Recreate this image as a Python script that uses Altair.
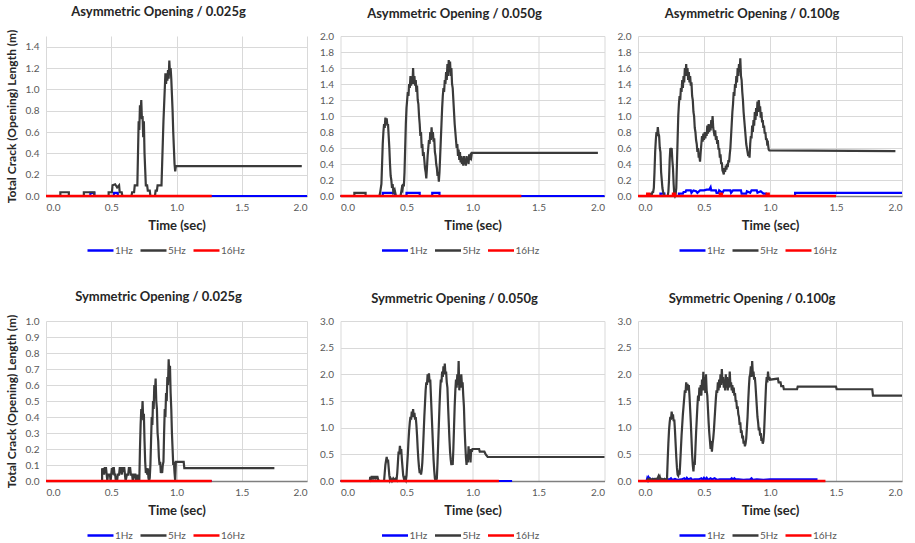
import altair as alt
import pandas as pd

# ---------------- data: (time in s, total crack opening length in m) ----------------
SERIES = ["1Hz", "5Hz", "16Hz"]
COLORS = ["#0000ff", "#3a3a3a", "#ff0000"]
X_TICKS = [0.0, 0.5, 1.0, 1.5, 2.0]

Y_TICKS_A025 = [0.0, 0.2, 0.4, 0.6, 0.8, 1.0, 1.2, 1.4]
Y_TICKS_A = [0.0, 0.2, 0.4, 0.6, 0.8, 1.0, 1.2, 1.4, 1.6, 1.8, 2.0]
Y_TICKS_S025 = [0.0, 0.1, 0.2, 0.3, 0.4, 0.5, 0.6, 0.7, 0.8, 0.9, 1.0]
Y_TICKS_S = [0.0, 0.5, 1.0, 1.5, 2.0, 2.5, 3.0]

TITLES = ["Asymmetric Opening / 0.025g", "Asymmetric Opening / 0.050g", "Asymmetric Opening / 0.100g",
          "Symmetric Opening / 0.025g", "Symmetric Opening / 0.050g", "Symmetric Opening / 0.100g"]
Y_TITLE = "Total Crack (Opening) Length (m)"
X_TITLE = "Time (sec)"

# ---- Asymmetric 0.025g ----
A025_1HZ = [(0, 0), (0.34, 0), (0.34, 0.03), (0.37, 0.03), (0.37, 0), (0.52, 0), (0.52, 0.03),
            (0.55, 0.03), (0.55, 0), (2.0, 0)]
A025_5HZ = [(0, 0), (0.11, 0), (0.11, 0.035), (0.175, 0.035), (0.175, 0), (0.29, 0), (0.29, 0.035),
            (0.37, 0.035), (0.37, 0), (0.48, 0), (0.48, 0.035), (0.505, 0.035), (0.51, 0.1), (0.53, 0.11),
            (0.545, 0.08), (0.56, 0.1), (0.565, 0.035), (0.58, 0.035), (0.585, 0), (0.655, 0), (0.66, 0.035),
            (0.675, 0.035), (0.68, 0.1), (0.70, 0.1), (0.705, 0.4), (0.71, 0.7), (0.715, 0.62), (0.72, 0.85),
            (0.725, 0.78), (0.73, 0.9), (0.735, 0.72), (0.74, 0.75), (0.745, 0.55), (0.75, 0.7), (0.755, 0.4),
            (0.76, 0.25), (0.765, 0.1), (0.775, 0.1), (0.78, 0.05), (0.795, 0.05), (0.80, 0), (0.835, 0),
            (0.84, 0.05), (0.85, 0.05), (0.855, 0.1), (0.885, 0.1), (0.89, 0.3), (0.895, 0.5), (0.90, 0.7),
            (0.905, 0.85), (0.91, 1.0), (0.915, 1.15), (0.92, 1.05), (0.925, 1.15), (0.93, 1.08), (0.935, 1.18),
            (0.94, 1.1), (0.945, 1.27), (0.95, 1.15), (0.955, 1.2), (0.96, 1.1), (0.965, 0.95), (0.97, 0.8),
            (0.975, 0.6), (0.98, 0.45), (0.985, 0.3), (0.99, 0.23), (0.995, 0.28), (1.96, 0.28)]
A025_16HZ = [(0, 0), (1.27, 0)]

# ---- Asymmetric 0.050g ----
A050_1HZ = [(0, 0), (0.32, 0), (0.32, 0.04), (0.41, 0.04), (0.41, 0), (0.50, 0), (0.50, 0.04), (0.60, 0.04),
            (0.60, 0), (0.695, 0), (0.695, 0.04), (0.75, 0.04), (0.75, 0), (2.0, 0)]
A050_5HZ = [(0, 0), (0.105, 0), (0.105, 0.04), (0.19, 0.04), (0.19, 0), (0.295, 0), (0.30, 0.04), (0.31, 0.15),
            (0.315, 0.4), (0.32, 0.65), (0.325, 0.8), (0.33, 0.9), (0.335, 0.85), (0.34, 0.98), (0.345, 0.92),
            (0.35, 0.97), (0.355, 0.88), (0.36, 0.9), (0.365, 0.75), (0.37, 0.6), (0.375, 0.4), (0.38, 0.25),
            (0.385, 0.2), (0.39, 0.1), (0.395, 0.15), (0.40, 0.05), (0.41, 0.08), (0.42, 0), (0.455, 0),
            (0.46, 0.05), (0.465, 0.1), (0.47, 0.08), (0.475, 0.15), (0.48, 0.12), (0.485, 0.3), (0.49, 0.6),
            (0.495, 0.9), (0.50, 1.1), (0.505, 1.2), (0.51, 1.3), (0.515, 1.25), (0.52, 1.4), (0.525, 1.35),
            (0.53, 1.5), (0.535, 1.38), (0.54, 1.48), (0.545, 1.4), (0.55, 1.6), (0.555, 1.4), (0.56, 1.5),
            (0.565, 1.38), (0.57, 1.45), (0.575, 1.3), (0.58, 1.38), (0.585, 1.2), (0.59, 1.15), (0.595, 1.0),
            (0.60, 0.9), (0.605, 0.75), (0.61, 0.8), (0.615, 0.6), (0.62, 0.65), (0.625, 0.5), (0.63, 0.55),
            (0.635, 0.45), (0.64, 0.35), (0.645, 0.3), (0.65, 0.22), (0.655, 0.35), (0.66, 0.5), (0.665, 0.6),
            (0.67, 0.7), (0.675, 0.65), (0.68, 0.8), (0.685, 0.7), (0.69, 0.86), (0.695, 0.72), (0.70, 0.8),
            (0.705, 0.68), (0.71, 0.72), (0.715, 0.55), (0.72, 0.5), (0.725, 0.4), (0.73, 0.35), (0.735, 0.25),
            (0.74, 0.3), (0.745, 0.18), (0.75, 0.3), (0.755, 0.5), (0.76, 0.7), (0.765, 0.9), (0.77, 1.1),
            (0.775, 1.25), (0.78, 1.35), (0.785, 1.3), (0.79, 1.45), (0.795, 1.4), (0.80, 1.55), (0.805, 1.45),
            (0.81, 1.65), (0.815, 1.5), (0.82, 1.7), (0.825, 1.55), (0.83, 1.68), (0.835, 1.5), (0.84, 1.6),
            (0.845, 1.4), (0.85, 1.35), (0.855, 1.2), (0.86, 1.05), (0.865, 0.9), (0.87, 0.8), (0.875, 0.7),
            (0.88, 0.6), (0.885, 0.65), (0.89, 0.5), (0.895, 0.58), (0.90, 0.45), (0.905, 0.55), (0.91, 0.42),
            (0.915, 0.5), (0.92, 0.4), (0.925, 0.48), (0.93, 0.38), (0.935, 0.5), (0.94, 0.4), (0.945, 0.45),
            (0.95, 0.38), (0.955, 0.5), (0.96, 0.42), (0.965, 0.48), (0.97, 0.4), (0.975, 0.52), (0.98, 0.45),
            (0.985, 0.5), (0.99, 0.48), (0.995, 0.54), (1.95, 0.54)]
A050_16HZ = [(0, 0), (1.37, 0)]

# ---- Asymmetric 0.100g ----
A100_1HZ = [(0, 0), (0.17, 0), (0.17, 0.03), (0.20, 0.03), (0.20, 0), (0.31, 0), (0.31, 0.03), (0.34, 0.03),
            (0.345, 0.05), (0.36, 0.05), (0.365, 0.07), (0.40, 0.07), (0.405, 0.04), (0.42, 0.07), (0.44, 0.06),
            (0.45, 0.04), (0.47, 0.07), (0.50, 0.07), (0.52, 0.08), (0.54, 0.08), (0.55, 0.11), (0.555, 0.07),
            (0.59, 0.07), (0.595, 0.04), (0.61, 0.04), (0.615, 0.07), (0.64, 0.04), (0.65, 0.07), (0.70, 0.07),
            (0.705, 0.04), (0.72, 0.07), (0.78, 0.07), (0.785, 0.03), (0.82, 0.03), (0.825, 0.06), (0.85, 0.04),
            (0.86, 0.07), (0.90, 0.07), (0.905, 0.04), (0.93, 0.06), (0.95, 0.03), (0.97, 0.03), (0.975, 0),
            (1.19, 0), (1.19, 0.04), (2.0, 0.04)]
A100_5HZ = [(0, 0), (0.085, 0), (0.09, 0.02), (0.10, 0.03), (0.105, 0.02), (0.11, 0.05), (0.115, 0.05),
            (0.12, 0.1), (0.125, 0.3), (0.13, 0.55), (0.135, 0.7), (0.14, 0.8), (0.145, 0.75), (0.15, 0.86),
            (0.155, 0.78), (0.16, 0.75), (0.165, 0.6), (0.17, 0.55), (0.175, 0.3), (0.18, 0.2), (0.185, 0.1),
            (0.19, 0.05), (0.195, 0.03), (0.20, 0), (0.225, 0), (0.23, 0.05), (0.235, 0.2), (0.24, 0.45),
            (0.245, 0.6), (0.25, 0.55), (0.255, 0.6), (0.26, 0.45), (0.265, 0.35), (0.27, 0.15), (0.275, 0.02),
            (0.28, 0), (0.285, 0.02), (0.29, 0.1), (0.295, 0.4), (0.30, 0.7), (0.305, 1.0), (0.31, 1.15),
            (0.315, 1.25), (0.32, 1.2), (0.325, 1.35), (0.33, 1.3), (0.335, 1.45), (0.34, 1.35), (0.345, 1.5),
            (0.35, 1.42), (0.355, 1.6), (0.36, 1.5), (0.365, 1.65), (0.37, 1.5), (0.375, 1.6), (0.38, 1.45),
            (0.385, 1.55), (0.39, 1.42), (0.395, 1.5), (0.40, 1.38), (0.405, 1.42), (0.41, 1.25), (0.415, 1.2),
            (0.42, 1.05), (0.425, 1.0), (0.43, 0.85), (0.435, 0.8), (0.44, 0.7), (0.445, 0.65), (0.45, 0.55),
            (0.455, 0.6), (0.46, 0.48), (0.465, 0.5), (0.47, 0.43), (0.475, 0.55), (0.48, 0.65), (0.485, 0.75),
            (0.49, 0.68), (0.495, 0.78), (0.50, 0.7), (0.505, 0.8), (0.51, 0.72), (0.515, 0.8), (0.52, 0.75),
            (0.525, 0.88), (0.53, 0.78), (0.535, 0.9), (0.54, 0.8), (0.545, 0.88), (0.55, 0.82), (0.555, 0.95),
            (0.56, 0.85), (0.565, 1.0), (0.57, 0.85), (0.575, 0.8), (0.58, 0.75), (0.585, 0.82), (0.59, 0.7),
            (0.595, 0.75), (0.60, 0.65), (0.605, 0.7), (0.61, 0.58), (0.615, 0.6), (0.62, 0.48), (0.625, 0.52),
            (0.63, 0.4), (0.635, 0.42), (0.64, 0.32), (0.645, 0.3), (0.65, 0.27), (0.655, 0.35), (0.66, 0.3),
            (0.665, 0.38), (0.67, 0.33), (0.675, 0.4), (0.68, 0.36), (0.685, 0.45), (0.69, 0.42), (0.695, 0.52),
            (0.70, 0.6), (0.705, 0.75), (0.71, 0.9), (0.715, 1.05), (0.72, 1.15), (0.725, 1.3), (0.73, 1.25),
            (0.735, 1.4), (0.74, 1.35), (0.745, 1.5), (0.75, 1.42), (0.755, 1.6), (0.76, 1.5), (0.765, 1.65),
            (0.77, 1.55), (0.775, 1.72), (0.78, 1.5), (0.785, 1.45), (0.79, 1.3), (0.795, 1.2), (0.80, 1.05),
            (0.805, 0.95), (0.81, 0.85), (0.815, 0.75), (0.82, 0.65), (0.825, 0.6), (0.83, 0.55), (0.835, 0.5),
            (0.84, 0.55), (0.845, 0.48), (0.85, 0.65), (0.855, 0.75), (0.86, 0.72), (0.865, 0.88), (0.87, 0.8),
            (0.875, 0.95), (0.88, 0.88), (0.885, 1.05), (0.89, 0.95), (0.895, 1.1), (0.90, 1.0), (0.905, 1.18),
            (0.91, 1.05), (0.915, 1.2), (0.92, 1.08), (0.925, 1.12), (0.93, 0.98), (0.935, 1.05), (0.94, 0.92),
            (0.945, 0.95), (0.95, 0.85), (0.955, 0.88), (0.96, 0.78), (0.965, 0.8), (0.97, 0.7), (0.975, 0.72),
            (0.98, 0.63), (0.985, 0.65), (0.99, 0.58), (0.995, 0.57), (1.95, 0.56)]
A100_16HZ = [(0, 0), (0.07, 0), (0.07, 0.03), (0.085, 0.03), (0.085, 0), (0.265, 0), (0.265, 0.03),
             (0.28, 0.03), (0.28, 0), (0.62, 0), (0.62, 0.03), (0.635, 0.03), (0.635, 0), (0.975, 0),
             (0.975, 0.03), (0.99, 0.03), (0.99, 0), (1.5, 0)]

# ---- Symmetric 0.025g ----
S025_1HZ = [(0, 0), (1.27, 0)]
S025_5HZ = [(0, 0), (0.43, 0), (0.43, 0.08), (0.435, 0.04), (0.44, 0.08), (0.445, 0.04), (0.45, 0.08),
            (0.46, 0.08), (0.465, 0.04), (0.47, 0), (0.475, 0.04), (0.49, 0.04), (0.495, 0), (0.50, 0.04),
            (0.505, 0.08), (0.51, 0.04), (0.515, 0.08), (0.52, 0.08), (0.525, 0.04), (0.53, 0.04), (0.535, 0),
            (0.545, 0), (0.55, 0.04), (0.56, 0.04), (0.565, 0.08), (0.575, 0.08), (0.58, 0.04), (0.59, 0.08),
            (0.60, 0.08), (0.605, 0.04), (0.61, 0), (0.62, 0.04), (0.63, 0.04), (0.635, 0.08), (0.645, 0.08),
            (0.65, 0.04), (0.66, 0.04), (0.665, 0), (0.675, 0.04), (0.685, 0.04), (0.69, 0), (0.70, 0.04),
            (0.705, 0), (0.715, 0), (0.72, 0.2), (0.725, 0.35), (0.73, 0.45), (0.735, 0.4), (0.74, 0.5),
            (0.745, 0.38), (0.75, 0.42), (0.755, 0.25), (0.76, 0.12), (0.765, 0.05), (0.77, 0.08), (0.775, 0.04),
            (0.78, 0.08), (0.785, 0.02), (0.79, 0), (0.795, 0.02), (0.80, 0.1), (0.805, 0.25), (0.81, 0.4),
            (0.815, 0.35), (0.82, 0.5), (0.825, 0.45), (0.83, 0.6), (0.835, 0.55), (0.84, 0.64), (0.845, 0.5),
            (0.85, 0.45), (0.855, 0.3), (0.86, 0.25), (0.865, 0.15), (0.87, 0.1), (0.875, 0.12), (0.88, 0.05),
            (0.885, 0.08), (0.89, 0.05), (0.895, 0.1), (0.90, 0.12), (0.905, 0.3), (0.91, 0.45), (0.915, 0.4),
            (0.92, 0.55), (0.925, 0.5), (0.93, 0.65), (0.935, 0.6), (0.94, 0.76), (0.945, 0.65), (0.95, 0.72),
            (0.955, 0.55), (0.96, 0.45), (0.965, 0.3), (0.97, 0.2), (0.975, 0.1), (0.98, 0.12), (0.985, 0.05),
            (0.99, 0), (0.995, 0.12), (1.055, 0.12), (1.06, 0.08), (1.75, 0.08)]
S025_16HZ = [(0, 0), (1.27, 0)]

# ---- Symmetric 0.050g ----
S050_1HZ = [(0, 0), (1.3, 0)]
S050_5HZ = [(0, 0), (0.222, 0), (0.225, 0.08), (0.23, 0.04), (0.235, 0.08), (0.24, 0.08), (0.245, 0.03),
            (0.25, 0.08), (0.26, 0.08), (0.265, 0.03), (0.27, 0.08), (0.28, 0.08), (0.285, 0.03), (0.29, 0),
            (0.33, 0), (0.335, 0.15), (0.34, 0.3), (0.345, 0.38), (0.35, 0.45), (0.355, 0.35), (0.36, 0.4),
            (0.365, 0.25), (0.37, 0.1), (0.375, 0.02), (0.38, 0.05), (0.39, 0), (0.40, 0.05), (0.41, 0.02),
            (0.42, 0.05), (0.425, 0.03), (0.43, 0.15), (0.435, 0.35), (0.44, 0.55), (0.445, 0.5), (0.45, 0.66),
            (0.455, 0.55), (0.46, 0.6), (0.465, 0.4), (0.47, 0.25), (0.475, 0.1), (0.48, 0.05), (0.485, 0),
            (0.49, 0.05), (0.495, 0.02), (0.50, 0.1), (0.505, 0.3), (0.51, 0.5), (0.515, 0.75), (0.52, 0.95),
            (0.525, 1.1), (0.53, 1.2), (0.535, 1.15), (0.54, 1.3), (0.545, 1.2), (0.55, 1.35), (0.555, 1.2),
            (0.56, 1.28), (0.565, 1.15), (0.57, 1.2), (0.575, 1.05), (0.58, 0.85), (0.585, 0.6), (0.59, 0.4),
            (0.595, 0.25), (0.60, 0.15), (0.605, 0.2), (0.61, 0.12), (0.615, 0.2), (0.62, 0.35), (0.625, 0.6),
            (0.63, 0.9), (0.635, 1.2), (0.64, 1.45), (0.645, 1.7), (0.65, 1.85), (0.655, 1.8), (0.66, 2.0),
            (0.665, 1.85), (0.67, 2.02), (0.675, 1.85), (0.68, 1.9), (0.685, 1.6), (0.69, 1.3), (0.695, 1.0),
            (0.70, 0.7), (0.705, 0.4), (0.71, 0.2), (0.715, 0.05), (0.72, 0), (0.725, 0), (0.73, 0.05),
            (0.735, 0.35), (0.74, 0.7), (0.745, 1.05), (0.75, 1.4), (0.755, 1.7), (0.76, 1.9), (0.765, 1.85),
            (0.77, 2.05), (0.775, 1.95), (0.78, 2.15), (0.785, 2.0), (0.79, 2.2), (0.795, 2.0), (0.80, 2.05),
            (0.805, 1.85), (0.81, 1.75), (0.815, 1.4), (0.82, 1.1), (0.825, 0.8), (0.83, 0.55), (0.835, 0.4),
            (0.84, 0.3), (0.845, 0.35), (0.85, 0.3), (0.855, 0.6), (0.86, 1.0), (0.865, 1.4), (0.87, 1.7),
            (0.875, 1.9), (0.88, 1.75), (0.885, 2.0), (0.89, 1.8), (0.895, 2.25), (0.90, 1.7), (0.905, 1.95),
            (0.91, 1.75), (0.915, 2.0), (0.92, 1.8), (0.925, 1.85), (0.93, 1.6), (0.935, 1.4), (0.94, 1.0),
            (0.945, 0.7), (0.95, 0.45), (0.955, 0.3), (0.96, 0.5), (0.965, 0.35), (0.97, 0.65), (0.975, 0.4),
            (0.98, 0.6), (0.985, 0.35), (0.99, 0.6), (0.995, 0.55), (1.0, 0.6), (1.05, 0.6), (1.055, 0.55),
            (1.09, 0.55), (1.10, 0.5), (1.115, 0.45), (2.0, 0.45)]
S050_16HZ = [(0, 0), (1.2, 0)]

# ---- Symmetric 0.100g ----
S100_1HZ = [(0, 0), (0.065, 0), (0.07, 0.05), (0.075, 0.02), (0.08, 0.06), (0.085, 0.03), (0.09, 0.05),
            (0.10, 0.02), (0.12, 0.04), (0.14, 0.02), (0.16, 0.04), (0.18, 0.02), (0.20, 0.03), (0.24, 0.03),
            (0.25, 0.05), (0.26, 0.02), (0.28, 0.04), (0.30, 0.02), (0.33, 0.03), (0.35, 0.05), (0.36, 0.02),
            (0.37, 0.06), (0.38, 0.03), (0.40, 0.05), (0.41, 0.02), (0.43, 0.03), (0.46, 0.03), (0.48, 0.05),
            (0.49, 0.02), (0.50, 0.06), (0.51, 0.03), (0.52, 0.06), (0.53, 0.02), (0.55, 0.05), (0.56, 0.03),
            (0.58, 0.05), (0.60, 0.02), (0.62, 0.03), (0.66, 0.03), (0.70, 0.03), (0.71, 0.05), (0.72, 0.02),
            (0.73, 0.05), (0.74, 0.03), (0.76, 0.03), (0.80, 0.02), (0.85, 0.03), (0.86, 0.05), (0.87, 0.02),
            (0.90, 0.03), (0.95, 0.02), (1.0, 0.03), (1.36, 0.03)]
S100_5HZ = [(0, 0), (0.07, 0), (0.075, 0.03), (0.08, 0.01), (0.09, 0.04), (0.10, 0.02), (0.11, 0.04),
            (0.12, 0.02), (0.13, 0.04), (0.14, 0.03), (0.15, 0.06), (0.155, 0.09), (0.16, 0.05), (0.165, 0.08),
            (0.17, 0.03), (0.18, 0.04), (0.19, 0.02), (0.20, 0.04), (0.21, 0.02), (0.215, 0.03), (0.22, 0.05),
            (0.225, 0.4), (0.23, 0.7), (0.235, 0.95), (0.24, 1.1), (0.245, 1.2), (0.25, 1.15), (0.255, 1.3),
            (0.26, 1.2), (0.265, 1.25), (0.27, 1.12), (0.275, 1.15), (0.28, 0.95), (0.285, 0.7), (0.29, 0.45),
            (0.295, 0.25), (0.30, 0.12), (0.305, 0.1), (0.31, 0.15), (0.315, 0.12), (0.32, 0.35), (0.325, 0.6),
            (0.33, 0.85), (0.335, 1.05), (0.34, 1.25), (0.345, 1.4), (0.35, 1.55), (0.355, 1.7), (0.36, 1.65),
            (0.365, 1.85), (0.37, 1.7), (0.375, 1.82), (0.38, 1.7), (0.385, 1.8), (0.39, 1.6), (0.395, 1.35),
            (0.40, 1.1), (0.405, 0.8), (0.41, 0.5), (0.415, 0.3), (0.42, 0.18), (0.425, 0.35), (0.43, 0.3),
            (0.435, 0.6), (0.44, 0.9), (0.445, 1.15), (0.45, 1.4), (0.455, 1.6), (0.46, 1.5), (0.465, 1.75),
            (0.47, 1.6), (0.475, 1.8), (0.48, 1.6), (0.485, 1.9), (0.49, 1.7), (0.495, 2.05), (0.50, 1.7),
            (0.505, 1.95), (0.51, 1.65), (0.515, 2.0), (0.52, 1.7), (0.525, 1.6), (0.53, 1.35), (0.535, 1.1),
            (0.54, 0.9), (0.545, 0.75), (0.55, 0.6), (0.555, 0.75), (0.56, 0.55), (0.565, 0.7), (0.57, 0.8),
            (0.575, 0.95), (0.58, 1.15), (0.585, 1.35), (0.59, 1.55), (0.595, 1.7), (0.60, 1.65), (0.605, 1.85),
            (0.61, 1.7), (0.615, 1.9), (0.62, 1.75), (0.625, 2.0), (0.63, 1.8), (0.635, 2.1), (0.64, 1.85),
            (0.645, 1.95), (0.65, 1.75), (0.655, 1.9), (0.66, 1.7), (0.665, 2.0), (0.67, 1.75), (0.675, 1.95),
            (0.68, 1.7), (0.685, 1.9), (0.69, 1.75), (0.695, 2.05), (0.70, 1.8), (0.705, 1.85), (0.71, 1.7),
            (0.715, 1.8), (0.72, 1.65), (0.725, 1.75), (0.73, 1.6), (0.735, 1.65), (0.74, 1.5), (0.745, 1.5),
            (0.75, 1.35), (0.755, 1.4), (0.76, 1.25), (0.765, 1.2), (0.77, 1.05), (0.775, 1.1), (0.78, 0.9),
            (0.785, 0.95), (0.79, 0.8), (0.795, 0.85), (0.80, 0.7), (0.805, 0.75), (0.81, 0.65), (0.815, 0.7),
            (0.82, 0.8), (0.825, 1.0), (0.83, 1.2), (0.835, 1.5), (0.84, 1.75), (0.845, 1.95), (0.85, 2.0),
            (0.855, 2.15), (0.86, 1.95), (0.865, 2.25), (0.87, 2.0), (0.875, 2.05), (0.88, 1.9), (0.885, 1.95),
            (0.89, 1.8), (0.895, 1.6), (0.90, 1.4), (0.905, 1.2), (0.91, 1.1), (0.915, 0.95), (0.92, 1.0),
            (0.925, 0.85), (0.93, 0.9), (0.935, 0.75), (0.94, 0.8), (0.945, 0.7), (0.95, 0.75), (0.955, 0.9),
            (0.96, 1.2), (0.965, 1.5), (0.97, 1.8), (0.975, 1.95), (0.98, 1.85), (0.985, 2.05), (0.99, 1.9),
            (0.995, 1.95), (1.0, 1.9), (1.06, 1.92), (1.065, 1.85), (1.08, 1.85), (1.085, 1.78), (1.10, 1.78),
            (1.105, 1.72), (1.205, 1.72), (1.21, 1.77), (1.5, 1.77), (1.505, 1.72), (1.775, 1.72), (1.78, 1.6),
            (2.0, 1.6)]
S100_16HZ = [(0, 0), (1.42, 0)]

FONT = "Lato"


def panel(title, s1, s5, s16, ymax, yticks, width, show_ytitle):
    rows = []
    for name, pts in zip(SERIES, (s1, s5, s16)):
        for i, (t, v) in enumerate(pts):
            rows.append({"t": t, "v": v, "s": name, "i": i})
    df = pd.DataFrame(rows)
    base = alt.Chart(df)

    x = alt.X("t:Q", scale=alt.Scale(domain=[0, 2], nice=False, zero=False),
              axis=alt.Axis(values=X_TICKS, format=".1f", title=X_TITLE, titlePadding=7,
                            labelPadding=6, domain=True, domainColor="#7f7f7f", domainWidth=1.5))
    if show_ytitle:
        yaxis = alt.Axis(values=yticks, format=".1f", title=Y_TITLE, titlePadding=7, labelPadding=7,
                         domain=False)
    else:
        yaxis = alt.Axis(values=yticks, format=".1f", title=None, labelPadding=7, domain=False)
    y = alt.Y("v:Q", scale=alt.Scale(domain=[0, ymax], nice=False), axis=yaxis)
    color = alt.Color("s:N", scale=alt.Scale(domain=SERIES, range=COLORS),
                      legend=alt.Legend(orient="none", legendX=40, legendY=200, direction="horizontal",
                                        title=None, symbolType="stroke", symbolSize=676,
                                        symbolStrokeWidth=2.5, labelFontSize=10, labelFont=FONT,
                                        labelColor="#595959", columnPadding=2, labelOffset=0,
                                        gridAlign="none"))
    layers = []
    for name, sw in zip(SERIES, (2.2, 2.2, 2.4)):
        layers.append(base.transform_filter(alt.datum.s == name)
                      .mark_line(strokeWidth=sw, strokeJoin="miter")
                      .encode(x=x, y=y, color=color, order="i:Q"))
    return alt.layer(*layers).properties(
        width=width, height=160,
        title=alt.TitleParams(title, anchor="middle", frame="group", dx=-18, offset=0,
                              fontSize=13, fontWeight="bold", font=FONT, color="#262626",
                              baseline="alphabetic"))


panels = [
    panel(TITLES[0], A025_1HZ, A025_5HZ, A025_16HZ, 1.5, Y_TICKS_A025, 261, True),
    panel(TITLES[1], A050_1HZ, A050_5HZ, A050_16HZ, 2.0, Y_TICKS_A, 264, False),
    panel(TITLES[2], A100_1HZ, A100_5HZ, A100_16HZ, 2.0, Y_TICKS_A, 264, False),
    panel(TITLES[3], S025_1HZ, S025_5HZ, S025_16HZ, 1.0, Y_TICKS_S025, 261, True),
    panel(TITLES[4], S050_1HZ, S050_5HZ, S050_16HZ, 3.0, Y_TICKS_S, 264, False),
    panel(TITLES[5], S100_1HZ, S100_5HZ, S100_16HZ, 3.0, Y_TICKS_S, 264, False),
]

chart = (alt.concat(*panels, columns=3, spacing={"row": 125, "column": 33.5}, bounds="flush")
         .resolve_scale(color="independent").resolve_legend(color="independent")
         .properties(padding={"left": 5, "top": 6, "right": 5, "bottom": 5}, background="white")
         .configure_view(stroke=None)
         .configure_axis(gridColor="#d9d9d9", gridWidth=1, ticks=False, labelFont=FONT, labelFontSize=10,
                         labelColor="#595959", titleFont=FONT, titleFontSize=13, titleFontWeight="bold",
                         titleColor="#262626")
         .configure_axisY(titleFontSize=12))

chart.save("out.html", embed_options={"renderer": "svg", "actions": False})
